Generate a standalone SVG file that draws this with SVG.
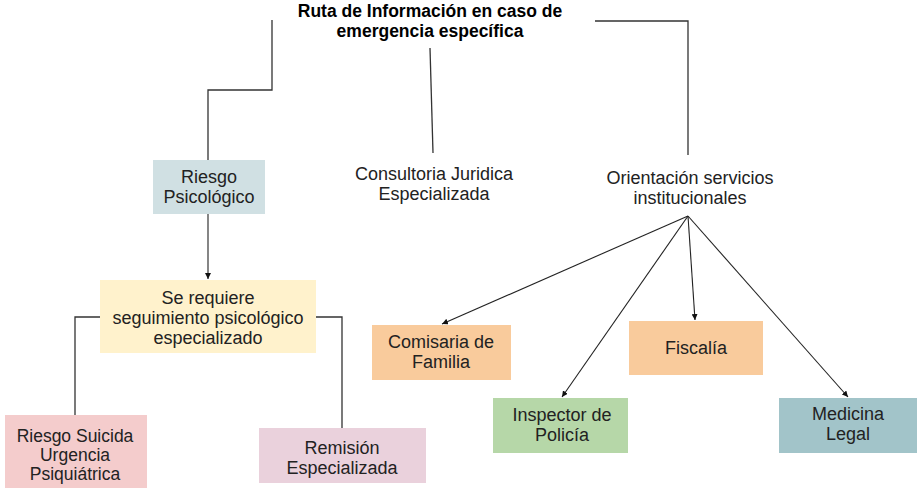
<svg xmlns="http://www.w3.org/2000/svg" width="917" height="488" viewBox="0 0 917 488">
<style>
text{font-family:"Liberation Sans",Arial,sans-serif;font-size:18px;fill:#222;text-anchor:middle}
.title{font-weight:bold;fill:#000;font-size:17.5px}
.tight{font-size:17.5px}
.ln{fill:none;stroke:#333;stroke-width:1.3}
.ar{fill:none;stroke:#222;stroke-width:1.1;marker-end:url(#ah)}
</style>
<defs>
<marker id="ah" viewBox="0 0 10 10" refX="10" refY="5" markerWidth="6" markerHeight="6" markerUnits="userSpaceOnUse" orient="auto">
<path d="M0,0L10,5L0,10z" fill="#111"/>
</marker>
</defs>
<rect width="917" height="488" fill="#fff"/>
<g id="connectors">
<polyline class="ln" points="272,20 272,90 208,90 208,160"/>
<polyline class="ln" points="595,21 688,21 688,155"/>
<line class="ln" x1="430" y1="48" x2="433" y2="153"/>
<line class="ar" x1="208" y1="214" x2="208" y2="279"/>
<polyline class="ln" points="100,317 75,317 75,415"/>
<polyline class="ln" points="316,317 342,317 342,428"/>
<line class="ar" x1="688" y1="216" x2="442" y2="324"/>
<line class="ar" x1="688" y1="216" x2="562" y2="397"/>
<line class="ar" x1="688" y1="216" x2="695" y2="320"/>
<line class="ar" x1="688" y1="216" x2="848" y2="397"/>
</g>
<g id="title">
<text class="title" x="430" y="17">Ruta de Información en caso de</text>
<text class="title" x="430" y="37">emergencia específica</text>
</g>
<g id="riesgo-psicologico">
<rect x="153" y="160" width="112" height="54" fill="#d0e0e3"/>
<text x="209" y="183">Riesgo</text>
<text x="209" y="203">Psicológico</text>
</g>
<g id="consultoria">
<text x="434" y="180">Consultoria Juridica</text>
<text x="434" y="200">Especializada</text>
</g>
<g id="orientacion">
<text x="690" y="184">Orientación servicios</text>
<text x="690" y="204">institucionales</text>
</g>
<g id="seguimiento">
<rect x="100" y="280" width="216" height="73" fill="#fff2cc"/>
<text x="208" y="304">Se requiere</text>
<text x="208" y="324">seguimiento psicológico</text>
<text x="208" y="344">especializado</text>
</g>
<g id="riesgo-suicida">
<rect x="5" y="415" width="142" height="73" fill="#f4cccc"/>
<text class="tight" x="75" y="442">Riesgo Suicida</text>
<text class="tight" x="75" y="461">Urgencia</text>
<text class="tight" x="75" y="480">Psiquiátrica</text>
</g>
<g id="remision">
<rect x="259" y="428" width="167" height="55" fill="#ead1dc"/>
<text x="342" y="454">Remisión</text>
<text x="342" y="474">Especializada</text>
</g>
<g id="comisaria">
<rect x="372" y="325" width="139" height="55" fill="#f9cb9c"/>
<text x="441" y="348">Comisaria de</text>
<text x="441" y="368">Familia</text>
</g>
<g id="fiscalia">
<rect x="629" y="321" width="134" height="54" fill="#f9cb9c"/>
<text x="696" y="354">Fiscalía</text>
</g>
<g id="inspector">
<rect x="493" y="398" width="135" height="55" fill="#b6d7a8"/>
<text x="562" y="421">Inspector de</text>
<text x="562" y="441">Policía</text>
</g>
<g id="medicina">
<rect x="779" y="398" width="138" height="55" fill="#a2c4c9"/>
<text x="848" y="420">Medicina</text>
<text x="848" y="440">Legal</text>
</g>
</svg>
